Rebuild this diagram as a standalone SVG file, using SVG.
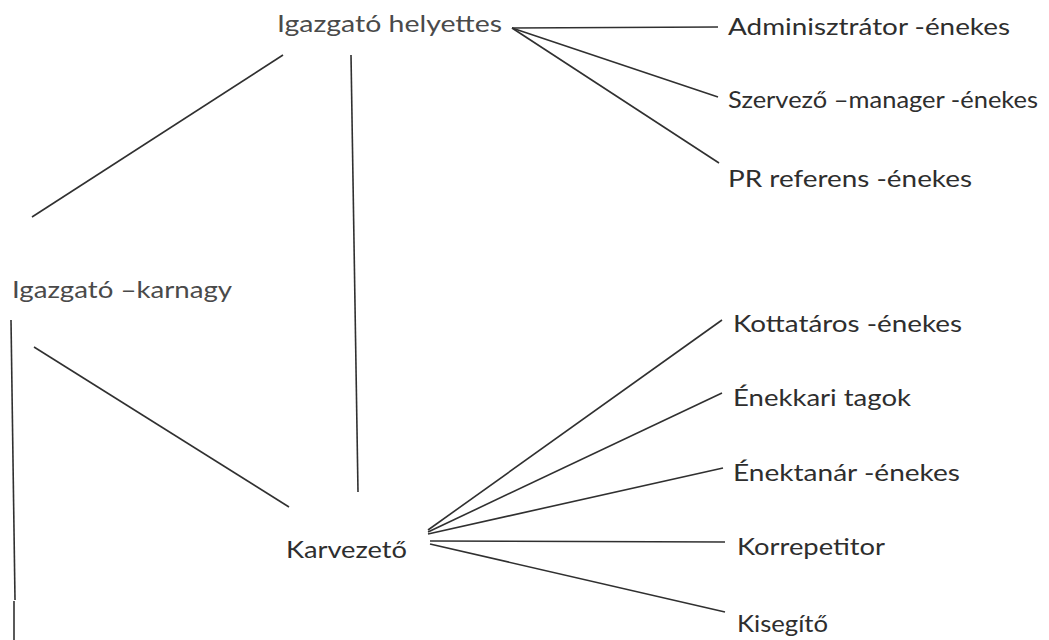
<svg xmlns="http://www.w3.org/2000/svg" width="1049" height="640" viewBox="0 0 1049 640">
<style>
.t{font-family:Lato,"Open Sans","Liberation Sans",sans-serif;font-size:24px;fill:#2e2e2e}
.l{font-family:Lato,"Open Sans","Liberation Sans",sans-serif;font-size:24px;fill:#4a4a4a}
.c line{stroke:#303030;stroke-width:1.6;fill:none}
</style>
<rect width="1049" height="640" fill="#ffffff"/>
<g class="c" id="connectors">
<line x1="283" y1="55" x2="32" y2="217"/>
<line x1="351" y1="55" x2="358" y2="492"/>
<line x1="512" y1="28" x2="718" y2="27"/>
<line x1="512" y1="28" x2="718" y2="97"/>
<line x1="512" y1="28" x2="719" y2="163"/>
<line x1="11" y1="320" x2="15" y2="600"/>
<line x1="14" y1="601" x2="14" y2="640"/>
<line x1="34" y1="347" x2="289" y2="507"/>
<line x1="428" y1="530" x2="722" y2="320"/>
<line x1="428" y1="532" x2="722" y2="393"/>
<line x1="428" y1="534" x2="723" y2="468"/>
<line x1="430" y1="541" x2="725" y2="542"/>
<line x1="430" y1="544" x2="725" y2="612"/>
</g>
<g id="igazgato-helyettes"><text class="l" x="277" y="32" textLength="225" lengthAdjust="spacingAndGlyphs">Igazgató helyettes</text></g>
<g id="adminisztrator"><text class="t" x="728" y="35" textLength="282" lengthAdjust="spacingAndGlyphs">Adminisztrátor -énekes</text></g>
<g id="szervezo"><text class="t" x="728" y="108" textLength="310" lengthAdjust="spacingAndGlyphs">Szervező –manager -énekes</text></g>
<g id="pr-referens"><text class="t" x="728" y="187" textLength="244" lengthAdjust="spacingAndGlyphs">PR referens -énekes</text></g>
<g id="igazgato-karnagy"><text class="l" x="12" y="298" textLength="220" lengthAdjust="spacingAndGlyphs">Igazgató –karnagy</text></g>
<g id="karvezeto"><text class="t" x="286" y="558" textLength="121" lengthAdjust="spacingAndGlyphs">Karvezető</text></g>
<g id="kottataros"><text class="t" x="733" y="332" textLength="229" lengthAdjust="spacingAndGlyphs">Kottatáros -énekes</text></g>
<g id="enekkari-tagok"><text class="t" x="733" y="406" textLength="178" lengthAdjust="spacingAndGlyphs">Énekkari tagok</text></g>
<g id="enektanar"><text class="t" x="733" y="481" textLength="227" lengthAdjust="spacingAndGlyphs">Énektanár -énekes</text></g>
<g id="korrepetitor"><text class="t" x="737" y="555" textLength="148" lengthAdjust="spacingAndGlyphs">Korrepetitor</text></g>
<g id="kisegito"><text class="t" x="737" y="632" textLength="91" lengthAdjust="spacingAndGlyphs">Kisegítő</text></g>
</svg>
